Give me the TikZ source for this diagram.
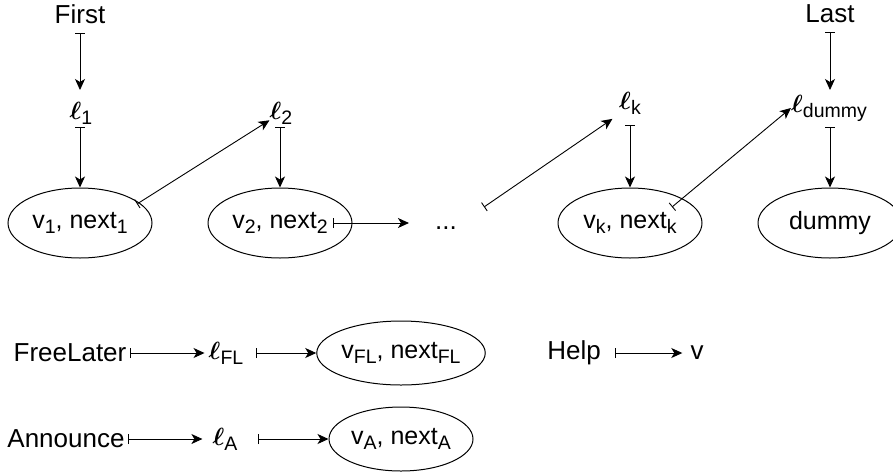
\documentclass[tikz,border=0pt]{standalone}
\usepackage{bm}
\usepackage{fontspec}
\setmainfont{Liberation Sans}
\usetikzlibrary{arrows.meta,shapes.geometric}
\newcommand\sbs[1]{\raisebox{-5pt}{\fontsize{19.5}{21}\selectfont #1}}
\newcommand\ellx{$\bm{\ell}$}
\tikzset{
  lbl/.style={inner sep=0pt, font=\fontsize{26}{30}\selectfont},
  oval/.style={draw, line width=1pt, ellipse, inner sep=0pt, minimum width=144pt, minimum height=70pt, font=\fontsize{25}{30}\selectfont},
  smalloval/.style={oval, minimum height=64pt},
  conn/.style={draw, line width=0.9pt, {Bar[width=10pt,line width=0.9pt]}-{Stealth[length=11pt,width=10pt,inset=3pt]}}
}
\begin{document}
\begin{tikzpicture}[x=1pt,y=-1pt]
\useasboundingbox (0,0) rectangle (893,474);
\clip (0,0) rectangle (893,474);
% top row
\node[lbl] (First) at (80,14) {First};
\node[lbl] (Last) at (830,14) {Last};
\node[lbl] (l1) at (81,113) {\ellx\sbs{1}};
\node[lbl] (l2) at (281,113) {\ellx\sbs{2}};
\node[lbl] (lk) at (630,103) {\ellx\sbs{k}};
\node[lbl] (ld) at (829,108) {\ellx\sbs{dummy}};
\node[oval] (v1) at (80,223) {v\sbs{1}, next\sbs{1}};
\node[oval] (v2) at (280,223) {v\sbs{2}, next\sbs{2}};
\node[lbl, text height=12pt, text depth=0pt] (dots) at (446,223) {...};
\node[oval] (vk) at (630,223) {v\sbs{k}, next\sbs{k}};
\node[oval] (dummy) at (830,223) {dummy};
\coordinate (v1o) at (137,204);
\coordinate (v2o) at (333,223);
\coordinate (dotso) at (484,207);
\coordinate (vko) at (672,207);
\draw[conn, shorten <=19pt, shorten >=23pt] (First.center) -- (l1.center -| First.center);
\draw[conn, shorten <=18pt, shorten >=18pt] (Last.center) -- (ld.center -| Last.center);
\draw[conn, shorten <=14pt] (l1.center -| v1.center) -- (v1);
\draw[conn, shorten <=14pt] (l2.center -| v2.center) -- (v2);
\draw[conn, shorten <=22pt] (lk.center) -- (vk);
\draw[conn, shorten <=19pt] (ld.center -| dummy.center) -- (dummy);
\draw[conn] (v1o) -- (l2);
\draw[conn, shorten >=26pt] (v2o) -- (dots);
\draw[conn, shorten >=8pt] (dotso) -- (lk.south west);
\draw[conn] (vko) -- (ld.west);
% bottom rows
\node[lbl] (FL) at (70,353) {FreeLater};
\node[lbl] (lFL) at (226,353) {\ellx\sbs{FL}};
\node[smalloval] (vFL) at (401,353) {v\sbs{FL}, next\sbs{FL}};
\node[lbl] (Ann) at (66,439) {Announce};
\node[lbl] (lA) at (225,439) {\ellx\sbs{A}};
\node[smalloval] (vA) at (401,439) {v\sbs{A}, next\sbs{A}};
\node[lbl] (Help) at (574,353) {Help};
\node[lbl] (v) at (697,353) {v};
\draw[conn, shorten <=3pt, shorten >=4pt] (FL) -- (lFL);
\draw[conn, shorten <=13pt] (lFL) -- (vFL);
\draw[conn, shorten <=3pt, shorten >=10pt] (Ann) -- (lA);
\draw[conn, shorten <=20pt] (lA) -- (vA);
\draw[conn, shorten <=14pt, shorten >=8pt] (Help) -- (v);
\end{tikzpicture}
\end{document}
